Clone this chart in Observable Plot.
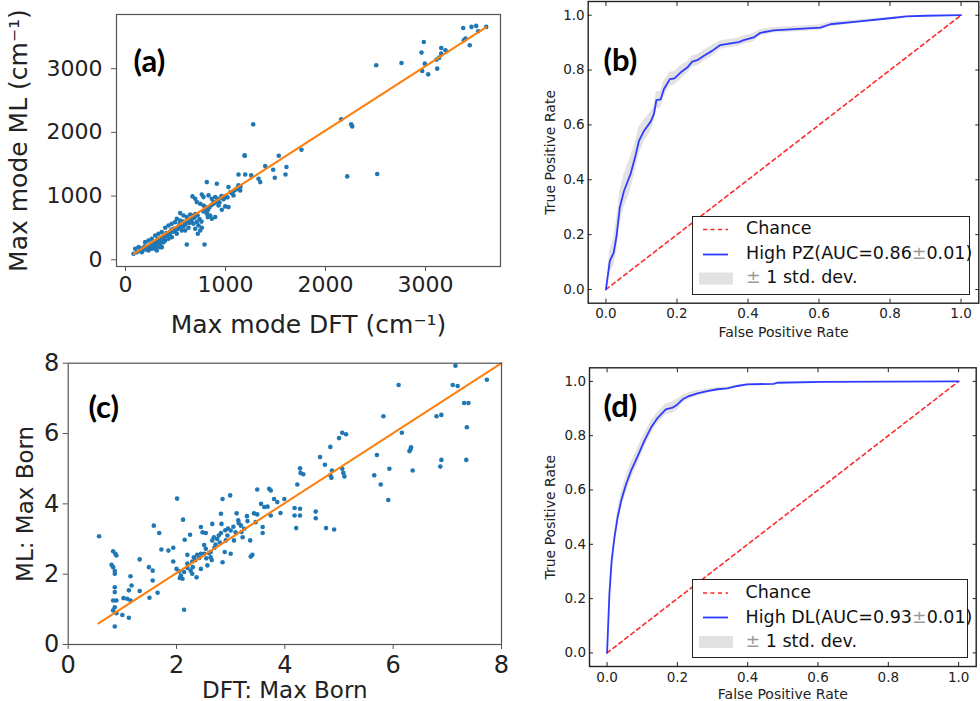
<!DOCTYPE html>
<html><head><meta charset="utf-8">
<script src="https://cdn.jsdelivr.net/npm/d3@7"></script>
<script src="https://cdn.jsdelivr.net/npm/@observablehq/plot@0.6"></script>
<style>
body{margin:0;background:#fff;}
#root{position:relative;width:980px;height:701px;overflow:hidden;background:#fff;font-family:"DejaVu Sans",sans-serif;}
.panel{position:absolute;}
.panel svg{overflow:visible;max-width:none;}
.legend{position:absolute;border:1.5px solid #222;background:#fff;box-sizing:border-box;font-family:"DejaVu Sans",sans-serif;font-size:17.5px;color:#111;}
.legend svg{position:absolute;left:0;top:0;}
.item{position:absolute;white-space:nowrap;transform:translateY(-50%);line-height:1;}
.pm{color:#9a9a9a;}
</style></head><body><div id="root"></div><script>
// ---------- (a) Max mode: DFT vs ML ----------
const aX = [1190,1397,1130,1197,1257,1330,1347,813,913,1030,1113,1130,1147,1063,1080,997,963,930,763,780,830,863,880,897,930,997,1030,963,670,697,713,747,780,797,823,813,847,863,897,547,580,613,647,680,663,713,730,697,747,723,763,513,547,497,463,430,397,480,530,580,597,630,363,330,297,323,380,413,263,230,197,247,280,213,180,130,147,113,80,97,330,347,363,297,380,613,790,447,463,513,563,597,630,680,297,263,397,430,163,230,263,313,347,
  150,170,190,210,240,260,280,300,310,320,340,350,370,390,410,420,440,460,480,500,520,540,560,580,600,620,640,660,690,700,720,740,760,780,800,840,860,880,900,920,940,960,980,1000,1020,1050,1080,1100,1120,1150,
  1277,1193,1533,1477,1610,1600,1493,1760,823,2157,2257,2267,2217,2517,2507,2760,2960,2983,2993,2967,3027,3117,3110,3137,3157,3157,3200,3377,3383,3400,3443,3460,3507,3527,3607];
const aY = [1639,1471,1340,1340,1325,1272,1220,1220,1194,1141,1115,1168,1089,1047,1011,984,974,958,1026,984,1011,958,906,984,853,838,827,785,995,958,906,880,853,827,775,723,696,644,670,733,696,670,712,696,592,592,539,487,461,408,503,644,618,592,565,539,503,487,513,524,461,503,435,408,382,330,356,398,330,304,277,225,251,199,173,199,147,120,94,173,304,251,199,173,277,241,241,435,356,408,461,565,592,565,277,251,304,330,120,147,173,147,199,
  180,140,210,160,190,200,220,240,200,260,300,330,320,360,420,380,400,470,440,470,480,560,520,600,560,620,580,640,660,720,700,640,600,760,800,820,860,880,900,940,900,1000,950,1000,980,1060,1080,1100,1130,1150,
  2126,1634,1634,1414,1456,1340,1288,1728,670,2204,2126,2094,1309,1346,3053,3089,3252,3419,3079,2964,2911,3000,3142,3173,3236,3325,3288,3639,3445,3471,3367,3655,3671,3587,3655];
const aFitX = [83, 3607];
const aFitY = [94, 3651];
const aTicks = [0, 1000, 2000, 3000];

// ---------- (c) Max Born: DFT vs ML ----------
const cX = [0.57,0.83,0.87,0.89,0.80,0.83,0.86,0.86,0.86,0.86,0.83,0.89,0.86,0.89,0.86,0.83,1.02,1.09,1.15,1.12,1.17,1.15,1.12,1.00,1.32,1.32,1.49,1.50,1.56,1.56,1.58,1.68,1.72,1.65,1.85,1.94,1.94,2.01,2.00,2.05,2.08,2.06,2.11,2.14,2.20,2.12,2.15,2.14,2.25,2.29,2.32,2.38,2.26,2.29,2.37,2.42,2.45,2.45,2.48,2.54,2.51,2.54,2.51,2.57,2.63,2.63,2.66,2.69,2.66,2.72,2.75,2.78,2.82,2.83,2.82,2.85,2.85,2.89,2.91,2.94,3.00,2.99,3.00,3.06,3.09,3.11,3.14,3.19,3.22,3.25,3.31,3.36,3.37,3.43,3.46,3.49,3.49,3.56,3.59,3.59,3.62,3.68,3.71,
  3.74,3.80,3.86,3.99,3.92,3.74,4.18,4.28,4.18,4.28,4.21,4.57,4.57,4.76,4.91,4.23,4.28,4.29,4.34,4.65,4.74,4.84,5.00,5.06,5.13,4.87,4.84,4.86,5.06,5.08,5.10,5.65,5.70,5.77,5.91,5.93,5.82,6.10,6.16,6.30,6.33,6.32,6.36,6.80,6.89,6.87,6.89,7.10,7.19,7.15,7.31,7.39,7.36,7.35,7.73,
  2.20,2.35,2.60,2.70,2.80,2.90,2.95,3.05,3.15,2.55,2.65,2.45,2.20,2.30,3.30,3.20,3.40];
const cY = [3.08,2.65,2.58,2.53,2.27,2.20,2.09,2.01,1.63,1.49,1.25,1.25,1.06,0.89,0.51,0.97,1.32,1.30,1.25,1.54,1.68,1.94,0.76,0.84,2.42,1.52,2.20,1.33,2.10,1.82,3.38,3.17,2.70,1.47,2.67,2.75,2.36,4.15,2.15,2.08,1.96,1.89,1.87,2.06,2.18,3.55,2.98,0.99,3.12,2.36,2.48,2.55,2.10,2.01,1.91,2.46,2.58,3.34,3.19,3.17,2.83,2.72,2.58,2.25,2.48,2.63,2.96,3.05,3.43,2.84,3.00,3.10,3.17,3.43,3.72,4.14,2.34,2.63,2.96,3.10,3.24,4.24,2.58,2.96,3.19,3.73,3.53,3.38,3.05,3.29,3.51,2.96,2.50,3.73,3.48,3.70,4.41,4.00,3.34,3.17,3.91,3.92,4.43,
  4.38,4.14,4.05,4.14,3.74,3.67,3.88,3.86,3.67,3.67,3.31,3.78,3.59,3.31,3.27,4.55,5.01,4.88,4.84,5.33,5.11,5.62,5.87,6.02,5.98,4.95,4.81,4.74,5.00,4.88,4.78,4.81,5.39,4.55,4.11,5.00,6.49,7.38,6.02,5.50,5.61,5.55,4.95,6.49,6.53,5.06,5.25,7.38,7.35,7.93,6.87,6.87,6.18,5.25,7.53,
  2.30,2.40,2.60,2.75,2.90,3.25,3.30,3.35,3.45,2.45,2.40,2.15,2.55,2.20,3.65,3.20,2.55];
const cFitX = [0.56, 8.0];
const cFitY = [0.60, 8.0];
const cTicks = [0, 2, 4, 6, 8];

// ---------- (b) ROC High PZ ----------
const bFpr = [0,0.011,0.022,0.030,0.039,0.051,0.069,0.083,0.093,0.107,0.126,0.135,0.142,0.154,0.163,0.180,0.193,0.210,0.229,0.243,0.257,0.276,0.299,0.322,0.351,0.374,0.388,0.416,0.435,0.472,0.519,0.604,0.632,0.707,0.800,0.847,0.900,1.0];
const bTpr = [0,0.104,0.135,0.196,0.299,0.360,0.420,0.487,0.542,0.578,0.612,0.639,0.690,0.693,0.730,0.767,0.770,0.791,0.809,0.831,0.836,0.852,0.870,0.891,0.897,0.902,0.909,0.919,0.936,0.945,0.948,0.955,0.967,0.977,0.989,0.996,0.998,1.0];
const bStd = [0,0.04,0.05,0.06,0.06,0.06,0.06,0.05,0.05,0.04,0.035,0.03,0.03,0.03,0.03,0.025,0.025,0.025,0.02,0.02,0.02,0.02,0.02,0.015,0.015,0.015,0.015,0.015,0.012,0.01,0.01,0.01,0.008,0.006,0.004,0.002,0.001,0];

// ---------- (d) ROC High DL ----------
const dFpr = [0,0.0066,0.013,0.021,0.030,0.040,0.054,0.068,0.087,0.106,0.125,0.144,0.167,0.186,0.200,0.215,0.233,0.257,0.285,0.314,0.342,0.371,0.399,0.474,0.484,0.616,0.800,1.0];
const dTpr = [0,0.217,0.339,0.425,0.499,0.560,0.621,0.670,0.725,0.781,0.830,0.866,0.897,0.903,0.915,0.934,0.946,0.956,0.964,0.971,0.974,0.983,0.989,0.991,0.995,0.998,0.999,1.0];
const dStd = [0,0.01,0.015,0.02,0.025,0.03,0.03,0.03,0.03,0.025,0.025,0.02,0.02,0.02,0.02,0.015,0.012,0.01,0.008,0.006,0.005,0.004,0.003,0.002,0.002,0.001,0.001,0];

const chanceX = [0, 1];
const chanceY = [0, 1];
const rocTicks = [0, 0.2, 0.4, 0.6, 0.8, 1.0];

const root = document.getElementById("root");
function place(node, left, top, w, h) {
  const div = document.createElement("div");
  div.className = "panel";
  div.style.left = left + "px"; div.style.top = top + "px";
  div.style.width = w + "px"; div.style.height = h + "px";
  div.appendChild(node);
  root.appendChild(div);
}
const FONT = "DejaVu Sans";
const tag = (t, dx, dy) => Plot.text([t], {text: d => d, frameAnchor: "top-left", dx, dy, textAnchor: "start", lineAnchor: "middle", fontSize: 31, fontWeight: "bold", fontFamily: "Lato", fill: "#000"});

function scatter(opts) {
  const data = opts.xs.map((x, i) => ({x, y: opts.ys[i]}));
  const fit = opts.fx.map((x, i) => ({x, y: opts.fy[i]}));
  const fmt = d3.format("d");
  return Plot.plot({
    width: opts.w, height: opts.h,
    marginLeft: opts.ml, marginRight: opts.mr, marginTop: opts.mt, marginBottom: opts.mb,
    x: {domain: opts.xd}, y: {domain: opts.yd},
    style: {fontFamily: FONT, color: "#222", background: "transparent", overflow: "visible"},
    marks: [
      Plot.dot(data, {x: "x", y: "y", r: 2.3, fill: "#1f77b4", stroke: "none"}),
      Plot.line(fit, {x: "x", y: "y", stroke: "#ff7f0e", strokeWidth: 2}),
      Plot.frame({stroke: "#555", strokeWidth: 1.2}),
      Plot.axisX(opts.ticks, {tickSize: 5, tickPadding: opts.xpad, fontSize: opts.tfs, tickFormat: fmt, label: null, stroke: "#555"}),
      Plot.axisY(opts.ticks, {tickSize: 5, tickPadding: opts.ypad, fontSize: opts.tfs, tickFormat: fmt, label: null, stroke: "#555"}),
      Plot.axisX([], {label: opts.xl, labelAnchor: "center", labelArrow: false, labelOffset: opts.xlo, fontSize: opts.lfs, tickSize: 0}),
      Plot.axisY([], {label: opts.yl, labelAnchor: "center", labelArrow: false, labelOffset: opts.ylo, fontSize: opts.lfs, tickSize: 0}),
      tag(opts.tag, opts.tdx, opts.tdy)
    ]
  });
}

function roc(opts) {
  const data = opts.fpr.map((f, i) => ({f, t: opts.tpr[i], lo: Math.max(0, opts.tpr[i] - opts.std[i]), hi: Math.min(1, opts.tpr[i] + opts.std[i])}));
  const chance = chanceX.map((x, i) => ({x, y: chanceY[i]}));
  const fmt = d3.format(".1f");
  return Plot.plot({
    width: opts.w, height: opts.h,
    marginLeft: opts.ml, marginRight: opts.mr, marginTop: opts.mt, marginBottom: opts.mb,
    x: {domain: [-0.05, 1.05]}, y: {domain: [-0.05, 1.05]},
    style: {fontFamily: FONT, color: "#222", background: "transparent", overflow: "visible"},
    marks: [
      Plot.areaY(data, {x: "f", y1: "lo", y2: "hi", fill: "#e2e2e2"}),
      Plot.line(chance, {x: "x", y: "y", stroke: "#ff2a2a", strokeWidth: 1.6, strokeDasharray: "4,3.5"}),
      Plot.line(data, {x: "f", y: "t", stroke: "#2f3cff", strokeWidth: 1.8}),
      Plot.frame({stroke: "#222", strokeWidth: 1.4}),
      Plot.axisX(rocTicks, {tickSize: -4, tickPadding: 9.5, fontSize: 13.5, tickFormat: fmt, label: null, stroke: "#222"}),
      Plot.axisY(rocTicks, {tickSize: -4, tickPadding: 7.5, fontSize: 13.5, tickFormat: fmt, label: null, stroke: "#222"}),
      Plot.axisX(rocTicks, {anchor: "top", tickSize: -4, fill: "none", label: null, stroke: "#222"}),
      Plot.axisY(rocTicks, {anchor: "right", tickSize: -4, fill: "none", label: null, stroke: "#222"}),
      Plot.axisX([], {label: "False Positive Rate", labelAnchor: "center", labelArrow: false, labelOffset: opts.xlo, fontSize: 14, tickSize: 0}),
      Plot.axisY([], {label: "True Positive Rate", labelAnchor: "center", labelArrow: false, labelOffset: opts.ylo, fontSize: 14, tickSize: 0}),
      tag(opts.tag, opts.tdx, opts.tdy)
    ]
  });
}

place(scatter({xs: aX, ys: aY, fx: aFitX, fy: aFitY, w: 505, h: 340, ml: 116, mr: 5, mt: 14, mb: 74,
  xd: [-90, 3750], yd: [-105, 3850], ticks: aTicks, tfs: 22, lfs: 25, xpad: 5, ypad: 9,
  xl: "Max mode DFT (cm\u207B\u00B9)", yl: "Max mode ML (cm\u207B\u00B9)", xlo: 66, ylo: 107,
  tag: "(a)", tdx: 17, tdy: 47.5}), 0, 0, 505, 340);

place(scatter({xs: cX, ys: cY, fx: cFitX, fy: cFitY, w: 505, h: 356, ml: 67.7, mr: 4, mt: 17.7, mb: 57,
  xd: [0, 8], yd: [0, 8], ticks: cTicks, tfs: 24, lfs: 23, xpad: 6, ypad: 4,
  xl: "DFT: Max Born", yl: "ML: Max Born", xlo: 53, ylo: 52,
  tag: "(c)", tdx: 20.3, tdy: 44.8}), 0, 345, 505, 356);

place(roc({fpr: bFpr, tpr: bTpr, std: bStd, w: 475, h: 340, ml: 82.7, mr: 1.7, mt: 1, mb: 37.3, ylo: 43.2, xlo: 33.5,
  tag: "(b)", tdx: 15.3, tdy: 59.8}), 505, 0, 475, 340);

place(roc({fpr: dFpr, tpr: dTpr, std: dStd, w: 475, h: 356, ml: 84, mr: 4.3, mt: 22.3, mb: 35, ylo: 44, xlo: 32,
  tag: "(d)", tdx: 14, tdy: 39.2}), 505, 345, 475, 356);

function legend(left, top, w, h, rows, label) {
  const div = document.createElement("div");
  div.className = "legend";
  div.style.left = left + "px"; div.style.top = top + "px";
  div.style.width = w + "px"; div.style.height = h + "px";
  div.innerHTML = `<svg width="${w}" height="${h}">
    <line x1="10" x2="35" y1="${rows[0]}" y2="${rows[0]}" stroke="#ff2a2a" stroke-width="1.6" stroke-dasharray="4,3.5"/>
    <line x1="10" x2="35" y1="${rows[1]}" y2="${rows[1]}" stroke="#2f3cff" stroke-width="1.8"/>
    <rect x="6" y="${rows[2] - 6}" width="34" height="12" fill="#e2e2e2"/></svg>
    <div class="item" style="left:53px;top:${rows[0]}px">Chance</div>
    <div class="item" style="left:53px;top:${rows[1]}px">${label}</div>
    <div class="item" style="left:53px;top:${rows[2]}px"><span class="pm">\u00B1</span> 1 std. dev.</div>`;
  root.appendChild(div);
}
legend(692, 215.5, 278, 79, [12.5, 37.5, 61.5], 'High PZ(AUC=0.86<span class="pm">\u00B1</span>0.01)');
legend(691.5, 579, 276.5, 79, [13, 37.5, 62], 'High DL(AUC=0.93<span class="pm">\u00B1</span>0.01)');
</script></body></html>
